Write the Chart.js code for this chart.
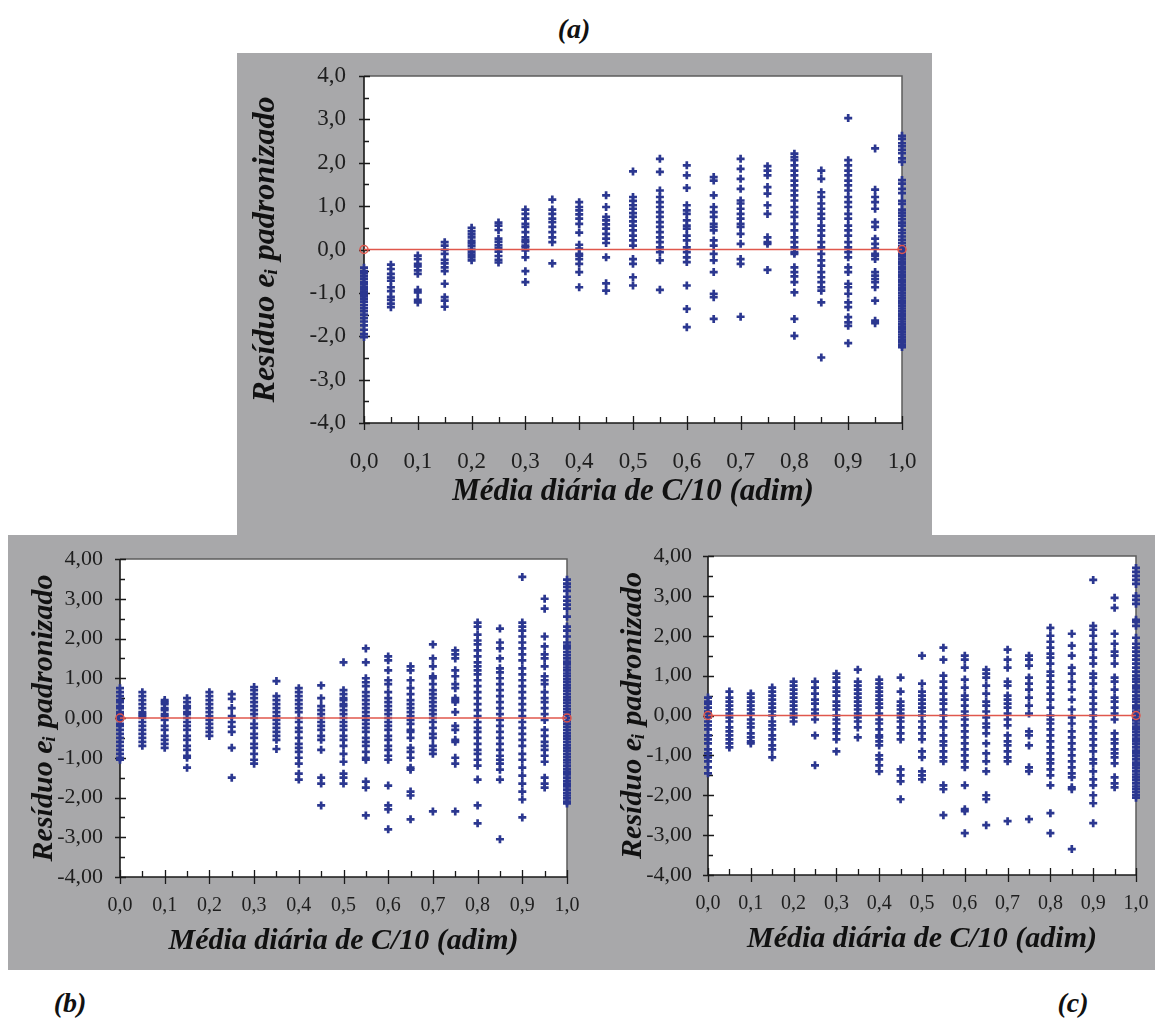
<!DOCTYPE html>
<html><head><meta charset="utf-8">
<script src="https://cdn.jsdelivr.net/npm/chart.js@4.4.0/dist/chart.umd.min.js"></script>
<style>
body{margin:0;width:1159px;height:1021px;background:#fff;position:relative;overflow:hidden;}
.gray{position:absolute;background:#a8a8aa;}
canvas{position:absolute;}
.lbl{position:absolute;font:italic bold 28px 'Liberation Serif',serif;color:#111;transform:translate(-50%,-50%);}
</style></head><body>
<div class="gray" style="left:237px;top:53px;width:695px;height:482px"></div>
<div class="gray" style="left:8px;top:535px;width:1147px;height:435px"></div>
<canvas id="ca" width="695" height="482" style="left:237px;top:53px;width:695px;height:482px"></canvas>
<canvas id="cb" width="588" height="435" style="left:8px;top:535px;width:588px;height:435px"></canvas>
<canvas id="cc" width="559" height="435" style="left:596px;top:535px;width:559px;height:435px"></canvas>
<div class="lbl" style="left:574px;top:29px">(a)</div>
<div class="lbl" style="left:70px;top:1003px">(b)</div>
<div class="lbl" style="left:1073px;top:1003px">(c)</div>
<script>
// x categories (Média diária de C/10)
const xCols = [0, 0.05, 0.1, 0.15, 0.2, 0.25, 0.3, 0.35, 0.4, 0.45, 0.5, 0.55, 0.6, 0.65, 0.7, 0.75, 0.8, 0.85, 0.9, 0.95, 1.0];
const X_TITLE = 'Média diária de C/10 (adim)';
const Y_TITLE = 'Resíduo eᵢ padronizado';

// Panel (a) residuals, one list per x column
const residA = [
  [-0.42,-0.5,-0.55,-0.62,-0.68,-0.75,-0.8,-0.86,-0.92,-0.97,-1.02,-1.08,-1.14,-1.2,-1.28,-1.35,-1.42,-1.5,-1.58,-1.66,-1.75,-1.85,-1.95,-2.02],
  [-0.35,-0.45,-0.56,-0.65,-0.72,-0.87,-0.96,-1.09,-1.16,-1.25,-1.33],
  [-0.14,-0.22,-0.33,-0.39,-0.48,-0.56,-0.93,-0.99,-1.16,-1.22],
  [0.17,0.09,-0.01,-0.1,-0.24,-0.32,-0.41,-0.5,-0.79,-1.1,-1.18,-1.32],
  [0.5,0.42,0.35,0.28,0.2,0.14,0.08,0.0,-0.06,-0.12,-0.18,-0.25],
  [0.62,0.55,0.45,0.25,0.18,0.1,0.04,-0.05,-0.15,-0.24,-0.3],
  [0.92,0.82,0.71,0.59,0.52,0.4,0.28,0.21,0.17,0.09,0.05,-0.02,-0.18,-0.5,-0.75],
  [1.15,0.92,0.82,0.71,0.63,0.52,0.4,0.28,0.17,-0.32],
  [1.09,0.98,0.9,0.81,0.71,0.59,0.39,0.11,0.02,-0.1,-0.14,-0.22,-0.33,-0.52,-0.87],
  [1.25,0.98,0.75,0.67,0.58,0.48,0.36,0.25,0.15,-0.18,-0.78,-0.95],
  [1.8,1.21,1.12,1.02,0.94,0.84,0.75,0.65,0.55,0.44,0.32,0.21,0.09,-0.22,-0.33,-0.64,-0.83],
  [2.09,1.79,1.36,1.21,1.09,0.98,0.86,0.75,0.63,0.52,0.4,0.28,0.17,0.05,-0.06,-0.25,-0.93],
  [1.94,1.71,1.42,1.02,0.9,0.82,0.67,0.55,0.48,0.32,0.21,0.05,-0.06,-0.18,-0.29,-0.83,-1.37,-1.79],
  [1.67,1.59,1.25,0.98,0.86,0.75,0.59,0.52,0.44,0.21,0.09,-0.1,-0.25,-0.52,-1.02,-1.1,-1.6],
  [2.09,1.86,1.63,1.4,1.13,1.06,0.94,0.82,0.71,0.59,0.52,0.36,0.13,-0.22,-0.33,-1.55],
  [1.92,1.82,1.71,1.44,1.29,1.02,0.82,0.28,0.17,0.13,-0.47],
  [2.21,2.13,2.06,1.94,1.82,1.71,1.59,1.48,1.36,1.25,1.13,0.98,0.86,0.75,0.59,0.44,0.28,0.17,0.05,-0.06,-0.1,-0.41,-0.52,-0.62,-0.75,-0.99,-1.6,-1.99],
  [1.82,1.63,1.32,1.21,1.06,0.94,0.82,0.71,0.55,0.44,0.32,0.17,0.05,-0.1,-0.25,-0.37,-0.52,-0.64,-0.75,-0.87,-0.95,-1.22,-2.49],
  [3.03,2.06,1.94,1.82,1.71,1.59,1.48,1.36,1.21,1.09,0.98,0.82,0.71,0.55,0.44,0.32,0.17,0.05,-0.06,-0.18,-0.41,-0.52,-0.79,-0.87,-1.02,-1.22,-1.33,-1.56,-1.68,-1.76,-2.16],
  [2.33,1.38,1.21,1.09,0.94,0.63,0.52,0.25,0.13,0.02,-0.1,-0.14,-0.22,-0.52,-0.6,-0.68,-0.75,-0.87,-1.18,-1.64,-1.7],
  [2.62,2.55,2.45,2.38,2.3,2.22,2.1,2.02,1.6,1.52,1.4,1.3,1.12,1.05,0.92,0.85,0.78,0.7,0.62,0.55,0.45,0.38,0.3,0.22,0.15,0.08,0.02,-0.04,-0.1,-0.16,-0.22,-0.28,-0.34,-0.4,-0.46,-0.52,-0.58,-0.64,-0.7,-0.76,-0.82,-0.88,-0.94,-1.0,-1.06,-1.12,-1.18,-1.24,-1.3,-1.36,-1.42,-1.48,-1.54,-1.6,-1.66,-1.72,-1.78,-1.84,-1.9,-1.96,-2.02,-2.08,-2.14,-2.2,-2.25]
];

// Panel (b) residuals
const residB = [
  [0.75,0.65,0.55,0.45,0.4,0.3,0.25,0.15,0.1,0.05,0,-0.05,-0.15,-0.2,-0.3,-0.4,-0.5,-0.6,-0.7,-0.8,-0.9,-1.0,-1.05],
  [0.65,0.55,0.45,0.35,0.25,0.15,0.1,0.05,0,-0.1,-0.2,-0.3,-0.4,-0.5,-0.6,-0.7],
  [0.45,0.4,0.35,0.25,0.2,0.1,0.05,-0.05,-0.2,-0.3,-0.45,-0.55,-0.65,-0.75],
  [0.5,0.4,0.3,0.25,0.15,0.1,0.0,-0.1,-0.2,-0.3,-0.45,-0.55,-0.7,-0.8,-0.95,-1.0,-1.25],
  [0.65,0.55,0.45,0.35,0.25,0.15,0.05,-0.05,-0.15,-0.25,-0.35,-0.45],
  [0.6,0.48,0.25,0.05,-0.1,-0.22,-0.35,-0.75,-1.5],
  [0.78,0.7,0.6,0.5,0.4,0.3,0.2,0.1,0.0,-0.15,-0.25,-0.4,-0.5,-0.65,-0.75,-0.9,-1.05,-1.15],
  [0.93,0.55,0.45,0.35,0.25,0.15,0.05,-0.05,-0.15,-0.25,-0.35,-0.45,-0.55,-0.78],
  [0.75,0.65,0.55,0.45,0.35,0.25,0.15,0.0,-0.1,-0.25,-0.35,-0.5,-0.65,-0.75,-0.85,-1.0,-1.15,-1.4,-1.55],
  [0.82,0.5,0.3,0.2,0.1,0.0,-0.1,-0.2,-0.3,-0.45,-0.55,-0.8,-1.5,-1.65,-2.2],
  [1.4,0.7,0.6,0.5,0.45,0.35,0.3,0.2,0.1,0.0,-0.1,-0.2,-0.3,-0.45,-0.55,-0.7,-0.9,-1.1,-1.4,-1.5,-1.65],
  [1.75,1.4,1.0,0.9,0.8,0.65,0.55,0.45,0.35,0.25,0.15,0.05,-0.05,-0.15,-0.25,-0.35,-0.5,-0.6,-0.7,-0.85,-1.0,-1.05,-1.6,-1.75,-2.45],
  [1.55,1.45,1.2,0.95,0.85,0.65,0.5,0.4,0.3,0.2,0.1,0.0,-0.1,-0.2,-0.3,-0.45,-0.55,-0.7,-0.8,-0.95,-1.05,-1.7,-2.2,-2.3,-2.8],
  [1.3,1.2,0.95,0.75,0.6,0.45,0.35,0.25,0.15,0.05,-0.05,-0.15,-0.3,-0.35,-0.5,-0.75,-0.85,-1.0,-1.25,-1.3,-1.85,-1.95,-2.55],
  [1.85,1.5,1.3,1.05,1.0,0.85,0.7,0.6,0.5,0.4,0.3,0.2,0.1,0.0,-0.1,-0.25,-0.4,-0.5,-0.7,-0.8,-0.9,-2.35],
  [1.7,1.6,1.5,1.2,1.05,0.85,0.75,0.5,0.45,0.4,0.15,-0.2,-0.3,-0.55,-0.6,-1.0,-1.15,-2.35],
  [2.4,2.3,2.1,1.95,1.85,1.7,1.55,1.4,1.3,1.2,1.1,0.95,0.8,0.65,0.5,0.35,0.2,0.05,-0.1,-0.25,-0.35,-0.5,-0.65,-0.8,-0.9,-1.05,-1.2,-1.55,-2.2,-2.65],
  [2.25,1.9,1.75,1.5,1.25,1.15,1.0,0.85,0.7,0.55,0.4,0.25,0.1,-0.05,-0.2,-0.35,-0.5,-0.65,-0.8,-0.95,-1.05,-1.15,-1.3,-1.55,-3.05],
  [3.55,2.4,2.3,2.2,2.05,1.9,1.75,1.6,1.45,1.25,1.1,0.95,0.8,0.65,0.5,0.35,0.2,0.05,-0.1,-0.25,-0.4,-0.55,-0.7,-0.9,-1.05,-1.25,-1.45,-1.65,-1.85,-2.05,-2.5],
  [3.0,2.75,2.05,1.8,1.6,1.5,1.3,1.05,0.95,0.85,0.65,0.5,0.4,0.25,0.1,-0.05,-0.3,-0.45,-0.6,-0.7,-0.8,-0.95,-1.1,-1.5,-1.65,-1.75],
  [3.48,3.38,3.3,3.2,3.05,2.95,2.85,2.75,2.55,2.3,2.2,2.05,1.9,1.82,1.75,1.66,1.58,1.5,1.42,1.35,1.27,1.2,1.12,1.05,0.97,0.9,0.82,0.75,0.68,0.6,0.52,0.45,0.38,0.3,0.22,0.15,0.08,0.0,-0.08,-0.15,-0.22,-0.3,-0.38,-0.45,-0.52,-0.6,-0.68,-0.75,-0.82,-0.9,-0.98,-1.05,-1.12,-1.2,-1.28,-1.35,-1.42,-1.5,-1.58,-1.65,-1.72,-1.8,-1.88,-1.95,-2.02,-2.1,-2.15]
];

// Panel (c) residuals
const residC = [
  [0.45,0.35,0.3,0.2,0.1,0.05,-0.05,-0.15,-0.25,-0.35,-0.5,-0.6,-0.7,-0.85,-0.95,-1.05,-1.15,-1.3,-1.45],
  [0.6,0.45,0.35,0.25,0.15,0.05,-0.05,-0.15,-0.3,-0.4,-0.5,-0.6,-0.7,-0.8],
  [0.55,0.45,0.35,0.25,0.15,0.05,-0.1,-0.2,-0.3,-0.45,-0.55,-0.65,-0.7],
  [0.7,0.6,0.5,0.4,0.3,0.2,0.1,0.0,-0.15,-0.25,-0.35,-0.5,-0.6,-0.75,-0.85,-1.05],
  [0.85,0.75,0.65,0.55,0.45,0.35,0.25,0.15,0.05,-0.05,-0.15],
  [0.85,0.7,0.55,0.4,0.3,0.15,0.05,-0.1,-0.5,-1.25],
  [1.05,0.95,0.85,0.7,0.6,0.5,0.35,0.25,0.15,0.0,-0.1,-0.2,-0.35,-0.45,-0.6,-0.9],
  [1.15,0.85,0.75,0.65,0.55,0.45,0.35,0.25,0.15,0.05,-0.05,-0.15,-0.3,-0.55],
  [0.9,0.8,0.7,0.6,0.5,0.4,0.3,0.2,0.05,-0.1,-0.2,-0.35,-0.5,-0.55,-0.65,-0.75,-1.0,-1.1,-1.25,-1.4],
  [0.95,0.6,0.35,0.25,0.15,0.05,-0.05,-0.15,-0.3,-0.45,-0.6,-1.35,-1.5,-1.65,-2.1],
  [1.5,0.8,0.6,0.5,0.4,0.3,0.2,0.1,0.0,-0.15,-0.3,-0.45,-0.6,-0.9,-1.05,-1.4,-1.5,-1.6],
  [1.7,1.4,1.0,0.85,0.7,0.55,0.4,0.3,0.15,0.0,-0.15,-0.3,-0.5,-0.65,-0.75,-0.9,-1.05,-1.15,-1.75,-1.85,-2.5],
  [1.5,1.4,1.2,0.9,0.7,0.5,0.4,0.25,0.1,0.0,-0.1,-0.25,-0.4,-0.55,-0.7,-0.85,-1.0,-1.15,-1.3,-1.75,-2.35,-2.4,-2.95],
  [1.15,1.05,0.95,0.75,0.55,0.35,0.25,0.1,-0.05,-0.2,-0.3,-0.45,-0.7,-0.95,-1.15,-1.4,-2.0,-2.1,-2.75],
  [1.65,1.4,1.2,0.85,0.75,0.5,0.4,0.3,0.2,0.05,-0.1,-0.25,-0.5,-0.65,-0.75,-0.9,-1.05,-1.15,-2.65],
  [1.5,1.4,1.25,0.95,0.8,0.65,0.45,0.25,0.05,-0.4,-0.5,-0.75,-1.3,-1.4,-2.6],
  [2.2,2.0,1.85,1.7,1.55,1.45,1.3,1.1,1.0,0.85,0.7,0.55,0.4,0.2,0.0,-0.1,-0.2,-0.35,-0.5,-0.65,-0.8,-0.95,-1.1,-1.2,-1.35,-1.5,-1.75,-2.45,-2.95],
  [2.05,1.75,1.5,1.2,1.05,0.85,0.65,0.4,0.15,-0.05,-0.2,-0.4,-0.55,-0.7,-0.85,-1.0,-1.15,-1.3,-1.45,-1.55,-1.8,-1.85,-3.35],
  [3.4,2.25,2.15,2.0,1.8,1.65,1.45,1.3,1.05,0.95,0.8,0.6,0.45,0.3,0.15,0.0,-0.15,-0.3,-0.45,-0.6,-0.75,-0.9,-1.1,-1.2,-1.4,-1.6,-1.75,-2.0,-2.2,-2.7],
  [2.95,2.7,2.05,1.8,1.6,1.5,1.3,0.95,0.85,0.65,0.45,0.35,0.2,0.05,-0.1,-0.45,-0.6,-0.7,-0.85,-0.95,-1.05,-1.2,-1.55,-1.7,-1.8],
  [3.7,3.6,3.5,3.4,3.3,3.0,2.9,2.8,2.4,2.35,2.25,1.95,1.8,1.7,1.6,1.5,1.4,1.3,1.2,1.1,1.0,0.92,0.85,0.75,0.68,0.6,0.5,0.42,0.35,0.25,0.18,0.1,0.02,-0.05,-0.12,-0.2,-0.28,-0.35,-0.42,-0.5,-0.58,-0.65,-0.72,-0.8,-0.88,-0.95,-1.02,-1.1,-1.18,-1.25,-1.32,-1.4,-1.48,-1.55,-1.62,-1.7,-1.78,-1.85,-1.92,-2.0,-2.06]
];

// reference line (zero residual)
const zeroLine = [{x:0, y:0}, {x:1, y:0}];

const BLUE = '#2b3790';
const RED = '#e0574c';
const SERIF = "'Liberation Serif', 'Times New Roman', serif";

const framePlugin = {
  id: 'frame',
  beforeDraw(chart) {
    const {ctx, chartArea: a} = chart;
    ctx.save();
    ctx.fillStyle = '#fff';
    ctx.fillRect(a.left, a.top, a.right - a.left, a.bottom - a.top);
    ctx.restore();
  },
  beforeDatasetsDraw(chart) {
    const {ctx, chartArea: a, scales: {x, y}} = chart;
    ctx.save();
    ctx.strokeStyle = '#5c5c5c'; ctx.lineWidth = 1.5;
    ctx.beginPath(); ctx.moveTo(a.left, a.top); ctx.lineTo(a.right, a.top); ctx.lineTo(a.right, a.bottom); ctx.stroke();
    ctx.strokeStyle = '#1a1a1a'; ctx.lineWidth = 1.6;
    ctx.beginPath(); ctx.moveTo(a.left, a.top); ctx.lineTo(a.left, a.bottom); ctx.lineTo(a.right, a.bottom); ctx.stroke();
    ctx.lineWidth = 1.3;
    ctx.beginPath();
    for (let k = 0; k <= 20; k++) {
      const px = Math.round(x.getPixelForValue(k * 0.05)) + 0.5;
      const major = k % 2 === 0;
      ctx.moveTo(px, a.bottom - (major ? 7 : 6));
      ctx.lineTo(px, a.bottom + (major ? 7 : 0));
    }
    for (let k = -8; k <= 8; k++) {
      const py = Math.round(y.getPixelForValue(k * 0.5)) + 0.5;
      const major = k % 2 === 0;
      ctx.moveTo(a.left - (major ? 5 : 0), py);
      ctx.lineTo(a.left + (major ? 6 : 5), py);
    }
    ctx.stroke();
    ctx.restore();
  }
};

function makePanel(id, columns, c) {
  const pts = [];
  columns.forEach((vals, i) => vals.forEach(v => pts.push({x: xCols[i], y: v})));
  new Chart(document.getElementById(id), {
    type: 'scatter',
    data: {datasets: [
      {type: 'line', data: zeroLine, borderColor: RED, borderWidth: 1.6, pointRadius: 4,
       pointBorderColor: RED, pointBackgroundColor: 'rgba(0,0,0,0)', pointBorderWidth: 1.5, order: 0, clip: false},
      {data: pts, pointStyle: 'cross', pointRadius: 4, pointBorderColor: BLUE, borderColor: BLUE,
       pointBorderWidth: 2.7, order: 1, clip: false}
    ]},
    options: {
      responsive: false, animation: false, devicePixelRatio: 1,
      layout: {padding: {left: 0, top: c.padTop, right: c.padRight, bottom: 0}},
      plugins: {legend: {display: false}, tooltip: {enabled: false}},
      scales: {
        x: {type: 'linear', min: 0, max: 1, grid: {display: false, drawTicks: false}, border: {display: false},
          ticks: {stepSize: 0.1, padding: c.xTickPad, color: '#1e1e1e', maxRotation: 0, autoSkip: false,
            font: {family: SERIF, size: c.xTickSize},
            callback: v => v.toFixed(1).replace('.', ',')},
          title: {display: true, text: X_TITLE, color: '#111',
            font: {family: SERIF, size: c.xTitleSize, weight: 'bold', style: 'italic'},
            padding: {top: 0, bottom: c.xTitlePad}},
          afterFit: s => { s.height = c.xAxisH; s.paddingLeft = 0; s.paddingRight = 0; }},
        y: {type: 'linear', min: -4, max: 4, grid: {display: false, drawTicks: false}, border: {display: false},
          ticks: {stepSize: 1, padding: c.yTickPad, color: '#1e1e1e',
            font: {family: SERIF, size: c.yTickSize},
            callback: v => v.toFixed(c.dec).replace('.', ',')},
          title: {display: true, text: Y_TITLE, color: '#111',
            font: {family: SERIF, size: c.yTitleSize, weight: 'bold', style: 'italic'},
            padding: {top: c.yTitlePad, bottom: 0}},
          afterFit: s => { s.width = c.yAxisW; s.paddingTop = 0; s.paddingBottom = 0; }}
      }
    },
    plugins: [framePlugin]
  });
}

makePanel('ca', residA, {padTop: 23, padRight: 30, yAxisW: 127, xAxisH: 112, dec: 1,
  xTickPad: 25, xTickSize: 23, yTickPad: 18, yTickSize: 23,
  xTitleSize: 31, xTitlePad: 24, yTitleSize: 32, yTitlePad: 10});
makePanel('cb', residB, {padTop: 24, padRight: 29, yAxisW: 112, xAxisH: 93, dec: 2,
  xTickPad: 17, xTickSize: 20, yTickPad: 17, yTickSize: 22,
  xTitleSize: 30, xTitlePad: 11, yTitleSize: 30, yTitlePad: 18});
makePanel('cc', residC, {padTop: 21, padRight: 19, yAxisW: 112, xAxisH: 95, dec: 2,
  xTickPad: 17, xTickSize: 20, yTickPad: 16, yTickSize: 22,
  xTitleSize: 30, xTitlePad: 13, yTitleSize: 30, yTitlePad: 19});
</script>
</body></html>
